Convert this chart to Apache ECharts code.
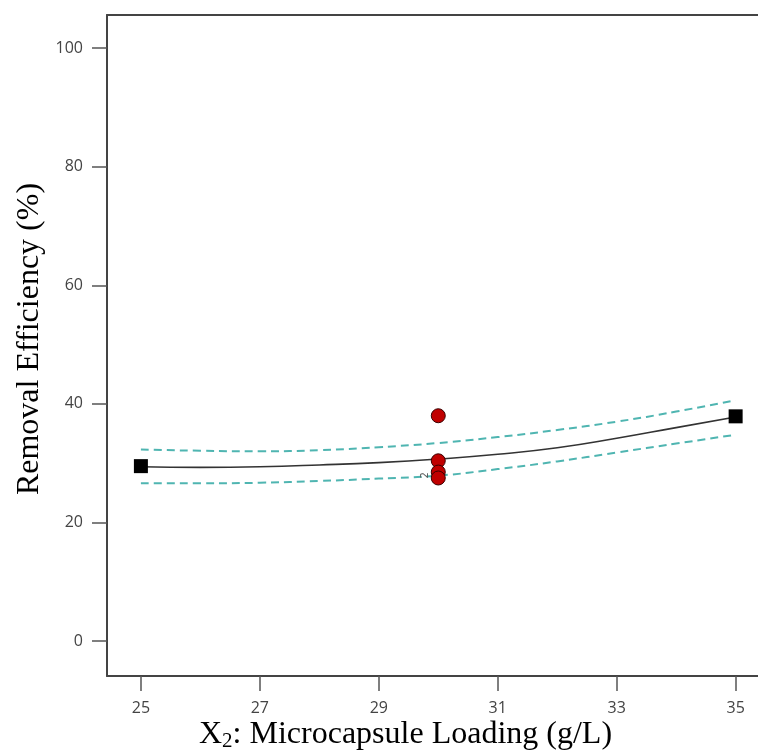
<!DOCTYPE html>
<html>
<head>
<meta charset="utf-8">
<script src="https://cdn.jsdelivr.net/npm/echarts@6/dist/echarts.min.js"></script>
<style>
  html, body { margin: 0; padding: 0; background: #fff; }
  #chart { width: 758px; height: 752px; }
</style>
</head>
<body>
<div id="chart"></div>
<script>
'use strict';

// values
var curveX = [25, 26, 27, 28, 29, 30, 31, 32, 33, 34, 35];
var fitY   = [29.4, 29.3, 29.4, 29.7, 30.1, 30.7, 31.5, 32.6, 34.2, 36.0, 37.8];
var upperY = [32.3, 32.1, 32.0, 32.2, 32.7, 33.4, 34.4, 35.6, 37.0, 38.7, 40.6];
var lowerY = [26.6, 26.6, 26.7, 27.0, 27.4, 27.9, 29.0, 30.3, 31.8, 33.3, 34.8];

var factorialX = [25, 35];
var factorialY = [29.5, 37.9];

var centerX = [30, 30, 30, 30];
var centerY = [38.0, 30.4, 28.5, 27.5];

var xTicks = [25, 27, 29, 31, 33, 35];
var yTicks = [0, 20, 40, 60, 80, 100];

function pairs(xs, ys) {
    return xs.map(function (x, i) { return [x, ys[i]]; });
}

var chart = echarts.init(document.getElementById('chart'));

var tickFont = { color: '#444', fontSize: 16, fontFamily: 'Open Sans' };
var bandStyle = { color: '#4fb5b1', width: 2, type: [8, 5] };
var frameLine = { color: '#444', width: 2 };
var serif = 'Liberation Serif';

var option = {
    animation: false,
    backgroundColor: '#fff',
    grid: {
        left: 107,
        top: 15,
        width: 700,   // plot runs past the right edge of the picture
        height: 661,
        outerBoundsMode: 'none',
        containLabel: false
    },
    xAxis: [{
        type: 'value',
        min: 24.43,
        max: 36.2,
        splitLine: { show: false },
        axisLine: { show: true, onZero: false, lineStyle: frameLine },
        axisTick: { show: true, length: 15, customValues: xTicks, lineStyle: { color: '#555', width: 1.5 } },
        axisLabel: Object.assign({ margin: 24, customValues: xTicks }, tickFont)
    }, {
        // top frame line only
        type: 'value',
        position: 'top',
        min: 24.43,
        max: 36.2,
        splitLine: { show: false },
        axisLine: { show: true, onZero: false, lineStyle: frameLine },
        axisTick: { show: false },
        axisLabel: { show: false }
    }],
    yAxis: {
        type: 'value',
        min: -5.9,
        max: 105.6,
        splitLine: { show: false },
        axisLine: { show: true, onZero: false, lineStyle: frameLine },
        axisTick: { show: true, length: 15, customValues: yTicks, lineStyle: { color: '#555', width: 1.5 } },
        axisLabel: Object.assign({ margin: 24, customValues: yTicks }, tickFont)
    },
    graphic: [{
        type: 'text',
        x: 30,
        y: 339,
        rotation: Math.PI / 2,
        style: {
            text: 'Removal Efficiency (%)',
            font: '32px "Liberation Serif"',
            fill: '#000',
            align: 'center',
            verticalAlign: 'middle'
        }
    }, {
        type: 'text',
        left: 199,
        top: 719,
        style: {
            text: '{a|X}{s|2}{a|: Microcapsule Loading (g/L)}',
            rich: {
                a: { fontSize: 32, fontFamily: serif, fill: '#000', color: '#000' },
                s: { fontSize: 21, fontFamily: serif, fill: '#000', color: '#000', padding: [12, 0, 0, 0] }
            }
        }
    }],
    series: [
        {
            type: 'line', data: pairs(curveX, upperY), smooth: true, symbol: 'none',
            lineStyle: bandStyle, z: 2
        },
        {
            type: 'line', data: pairs(curveX, lowerY), smooth: true, symbol: 'none',
            lineStyle: bandStyle, z: 2
        },
        {
            type: 'line', data: pairs(curveX, fitY), smooth: true, symbol: 'none',
            lineStyle: { color: '#333', width: 1.6 }, z: 3
        },
        {
            type: 'scatter', data: pairs(factorialX, factorialY),
            symbol: 'rect', symbolSize: 14,
            itemStyle: { color: '#000', opacity: 1 }, z: 4
        },
        {
            type: 'scatter',
            data: pairs(centerX, centerY).map(function (p, i) {
                var d = { value: p };
                // count label for the overlapping design points
                if (i === 2) {
                    d.label = {
                        show: true, formatter: '2', position: 'left', distance: 5,
                        rotate: 90, fontSize: 10, color: '#555', fontFamily: 'DejaVu Sans'
                    };
                }
                return d;
            }),
            symbol: 'circle', symbolSize: 14,
            itemStyle: { color: '#c00000', borderColor: '#3a0000', borderWidth: 1, opacity: 1 }, z: 5
        }
    ]
};

chart.setOption(option);
</script>
</body>
</html>
